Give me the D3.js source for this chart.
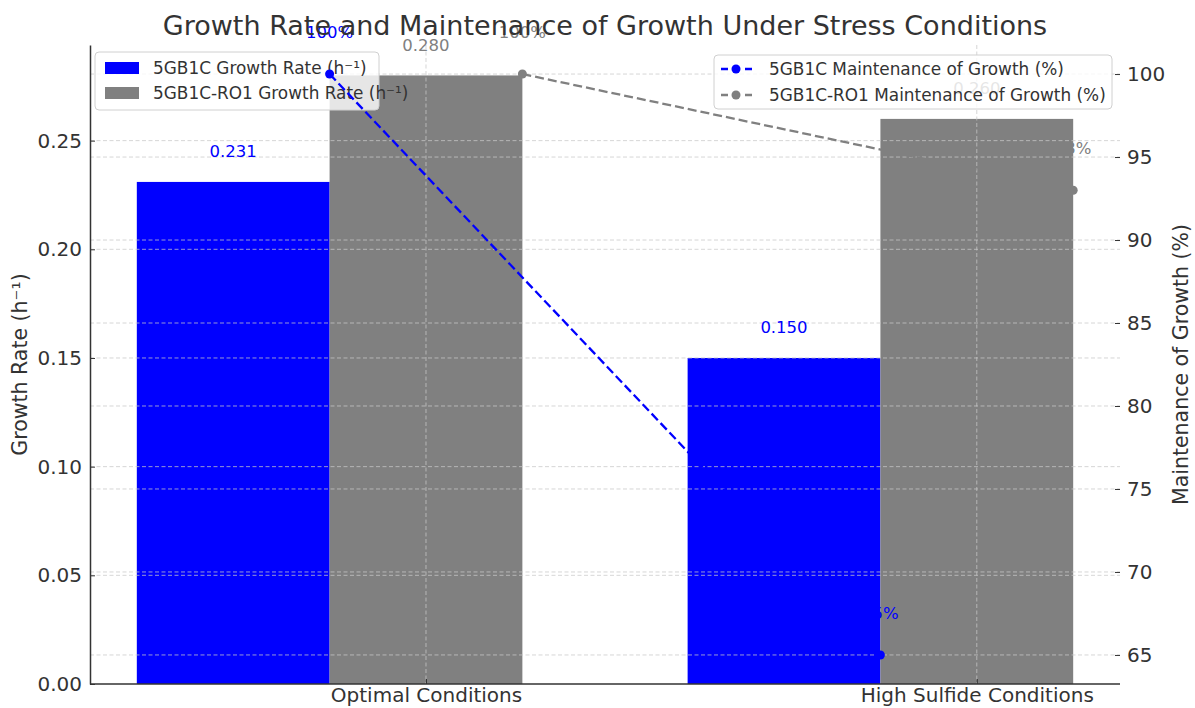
<!DOCTYPE html>
<html>
<head>
<meta charset="utf-8">
<script src="https://cdn.jsdelivr.net/npm/d3@7"></script>
<style>
  body { margin: 0; background: #fff; }
  text { font-family: "DejaVu Sans", sans-serif; }
</style>
</head>
<body>
<svg width="1195" height="708"></svg>
<script>
// data
const conditions = ["Optimal Conditions", "High Sulfide Conditions"];
const rate5GB1C = [0.231, 0.150];
const rateRO1 = [0.280, 0.260];
const maint5GB1C = [100, 65];
const maintRO1 = [100, 93];
const leftTicks = [0, 0.05, 0.10, 0.15, 0.20, 0.25];
const rightTicks = [65, 70, 75, 80, 85, 90, 95, 100];

const svg = d3.select("svg");
const plot = {left: 90, right: 1120, top: 45, bottom: 684};
const barWidth = 0.35;
const blue = "#0000ff", gray = "#808080", ink = "#333333";

const x = d3.scaleLinear().domain([-0.61, 1.26]).range([plot.left, plot.right]);
const yL = d3.scaleLinear().domain([0, 0.294]).range([plot.bottom, plot.top]);
const yR = d3.scaleLinear().domain([63.25, 101.75]).range([plot.bottom, plot.top]);
const idx = conditions.map((d, i) => i);

// bars
svg.selectAll("rect.b1").data(rate5GB1C).enter().append("rect")
    .attr("x", (d, i) => x(i - 1.5 * barWidth))
    .attr("y", d => yL(d))
    .attr("width", x(barWidth) - x(0))
    .attr("height", d => yL(0) - yL(d))
    .style("fill", blue)

svg.selectAll("rect.b2").data(rateRO1).enter().append("rect")
    .attr("x", (d, i) => x(i - 0.5 * barWidth))
    .attr("y", d => yL(d))
    .attr("width", x(barWidth) - x(0))
    .attr("height", d => yL(0) - yL(d))
    .style("fill", gray)

// grids (drawn over the bars, like the original)
const grid = svg.append("g")
    .attr("stroke", "#c8c8c8")
    .attr("stroke-opacity", 0.75)
    .attr("stroke-dasharray", "4,2.5")
    .attr("stroke-width", 1)
grid.selectAll("line.gl").data(leftTicks.slice(1)).enter().append("line")
    .attr("x1", plot.left).attr("x2", plot.right)
    .attr("y1", d => yL(d)).attr("y2", d => yL(d))
grid.selectAll("line.gr").data(rightTicks).enter().append("line")
    .attr("x1", plot.left).attr("x2", plot.right)
    .attr("y1", d => yR(d)).attr("y2", d => yR(d))
grid.selectAll("line.gx").data(idx).enter().append("line")
    .attr("x1", d => x(d)).attr("x2", d => x(d))
    .attr("y1", plot.top).attr("y2", plot.bottom)

// bar value labels
svg.selectAll("text.v1").data(rate5GB1C).enter().append("text")
    .attr("x", (d, i) => x(i - barWidth))
    .attr("y", d => yL(d + 0.01) - 3)
    .attr("text-anchor", "middle")
    .style("font-size", "16.5px")
    .style("fill", blue)
    .text(d => d.toFixed(3))

svg.selectAll("text.v2").data(rateRO1).enter().append("text")
    .attr("x", (d, i) => x(i))
    .attr("y", d => yL(d + 0.01) - 3)
    .attr("text-anchor", "middle")
    .style("font-size", "16.5px")
    .style("fill", gray)
    .text(d => d.toFixed(3))

// axes
const tickFont = "20px";
const gyL = svg.append("g")
    .attr("transform", `translate(${plot.left},0)`)
    .call(d3.axisLeft(yL).tickValues(leftTicks).tickFormat(d3.format(".2f")).tickSizeInner(-5).tickSizeOuter(0).tickPadding(8))
const gyR = svg.append("g")
    .attr("transform", `translate(${plot.right},0)`)
    .call(d3.axisRight(yR).tickValues(rightTicks).tickFormat(d3.format("d")).tickSizeInner(-5).tickSizeOuter(0).tickPadding(7))
gyR.select(".domain").remove()
const gx = svg.append("g")
    .attr("transform", `translate(0,${plot.bottom})`)
    .call(d3.axisBottom(x).tickValues(idx).tickFormat(i => conditions[i]).tickSizeInner(-5).tickSizeOuter(0).tickPadding(4))
gx.select(".domain").attr("d", `M${plot.left},0H${plot.right}`)

for (const g of [gyL, gyR, gx]) {
    g.selectAll("text").style("font-size", tickFont).style("fill", ink).style("font-family", "DejaVu Sans, sans-serif")
    g.selectAll("line").attr("stroke", ink)
    g.selectAll(".domain").attr("stroke", ink).attr("stroke-width", 1.5)
}

// legend for the bars sits under the maintenance lines
const barKeys = ["5GB1C Growth Rate (h⁻¹)", "5GB1C-RO1 Growth Rate (h⁻¹)"];
const lineKeys = ["5GB1C Maintenance of Growth (%)", "5GB1C-RO1 Maintenance of Growth (%)"];
const keyColors = [blue, gray];

const legL = svg.append("g").attr("transform", "translate(95,52)")
legL.append("rect").attr("width", 284).attr("height", 58).attr("rx", 4)
    .style("fill", "#fff").style("fill-opacity", 0.8).style("stroke", "#d0d0d0")
legL.selectAll("rect.sw").data(barKeys).enter().append("rect")
    .attr("x", 10).attr("y", (d, i) => 10 + i * 25)
    .attr("width", 34).attr("height", 12)
    .style("fill", (d, i) => keyColors[i])
legL.selectAll("text").data(barKeys).enter().append("text")
    .attr("x", 58).attr("y", (d, i) => 22 + i * 25)
    .style("font-size", "16.9px").style("fill", ink)
    .text(d => d)

// maintenance lines
const line = d3.line().x(d => d[0]).y(d => d[1]);
const series = [
    {vals: maint5GB1C, color: blue, off: -barWidth / 2},
    {vals: maintRO1, color: gray, off: barWidth / 2}
];
series.forEach(s => {
    const pts = s.vals.map((v, i) => [x(i + s.off), yR(v)]);
    svg.append("path")
        .attr("d", line(pts))
        .attr("fill", "none")
        .attr("stroke", s.color)
        .attr("stroke-width", 2.3)
        .attr("stroke-dasharray", "9,4")
    svg.selectAll(null).data(pts).enter().append("circle")
        .attr("cx", d => d[0]).attr("cy", d => d[1]).attr("r", 4.5)
        .style("fill", s.color)
    svg.selectAll(null).data(s.vals).enter().append("text")
        .attr("x", (d, i) => x(i + s.off))
        .attr("y", d => yR(d + 2) - 3)
        .attr("text-anchor", "middle")
        .style("font-size", "16.5px")
        .style("fill", s.color)
        .text(d => d + "%")
})

// title and axis labels
svg.append("text")
    .attr("x", (plot.left + plot.right) / 2)
    .attr("y", 35)
    .attr("text-anchor", "middle")
    .style("font-size", "27px")
    .style("fill", ink)
    .text("Growth Rate and Maintenance of Growth Under Stress Conditions")

svg.append("text")
    .attr("transform", `translate(27,${(plot.top + plot.bottom) / 2}) rotate(-90)`)
    .attr("text-anchor", "middle")
    .style("font-size", "20.5px")
    .style("fill", ink)
    .text("Growth Rate (h⁻¹)")

svg.append("text")
    .attr("transform", `translate(1188,${(plot.top + plot.bottom) / 2}) rotate(-90)`)
    .attr("text-anchor", "middle")
    .style("font-size", "20.5px")
    .style("fill", ink)
    .text("Maintenance of Growth (%)")

// legend for the lines
const legR = svg.append("g").attr("transform", "translate(714,55)")
legR.append("rect").attr("width", 398).attr("height", 54).attr("rx", 4)
    .style("fill", "#fff").style("fill-opacity", 0.8).style("stroke", "#d0d0d0")
lineKeys.forEach((k, i) => {
    const cy = 14 + i * 26;
    legR.append("line").attr("x1", 7).attr("x2", 38).attr("y1", cy).attr("y2", cy)
        .attr("stroke", keyColors[i]).attr("stroke-width", 2.3).attr("stroke-dasharray", "7,5")
    legR.append("circle").attr("cx", 22).attr("cy", cy).attr("r", 4.5).style("fill", keyColors[i])
    legR.append("text").attr("x", 55).attr("y", cy + 6)
        .style("font-size", "16.9px").style("fill", ink)
        .text(k)
})
</script>
</body>
</html>
